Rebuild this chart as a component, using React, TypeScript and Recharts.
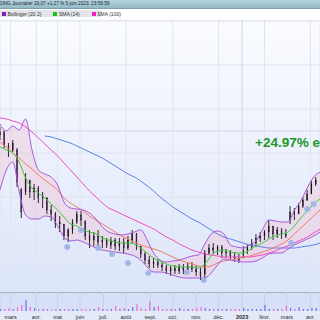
import { ComposedChart, Bar, Line, Area, Scatter, XAxis, YAxis, CartesianGrid, ReferenceLine, Cell } from "recharts";

// x axis = trading days from mid-Feb 2022
const monthDays = [10, 34, 54, 75, 97, 118, 141, 162, 184, 205, 227, 248, 269, 291];
const monthLabels = ["mars", "avr.", "mai", "juin", "juil.", "août", "sept.", "oct.", "nov.", "déc.", "2023", "févr.", "mars", "avr."];
const priceGrid = [5.75, 6.85, 7.95, 9.05, 10.15, 11.25, 12.35, 13.45, 14.55, 15.65, 16.75, 17.85, 18.95];

const candleDays = [0, 4, 8, 12, 16, 20, 24, 28, 32, 36, 40, 44, 48, 52, 56, 60, 64, 68, 72, 76, 80, 84, 88, 92, 96, 100, 104, 108, 112, 116, 120, 124, 128, 132, 136, 140, 144, 148, 152, 156, 160, 164, 168, 172, 176, 180, 184, 188, 192, 196, 200, 204, 208, 212, 216, 220, 224, 228, 232, 236, 240, 244, 248, 252, 256, 260, 264, 268, 272, 276, 280, 284, 288, 292, 296];
const opens = [13.25, 13.45, 12.7, 12.5, 12.5, 10.5, 10.4, 11.0, 10.4, 10.6, 10.1, 10.1, 9.5, 9.3, 8.8, 8.8, 8.2, 8.5, 8.9, 9.25, 8.9, 8.2, 8.0, 8.2, 7.9, 8.0, 7.75, 8.0, 7.7, 7.9, 7.6, 8.0, 8.3, 7.7, 7.3, 7.0, 6.8, 6.9, 6.75, 6.65, 6.45, 6.6, 6.45, 6.65, 6.5, 6.7, 6.55, 6.4, 6.3, 7.35, 7.6, 7.5, 7.65, 7.35, 7.4, 7.2, 7.1, 7.1, 7.5, 7.65, 7.85, 8.1, 8.2, 8.4, 8.7, 8.3, 8.5, 8.3, 9.0, 9.4, 9.3, 9.7, 10.0, 10.3, 10.8];
const highs = [13.65, 13.5, 12.85, 13.0, 12.6, 10.6, 11.35, 11.0, 10.8, 10.7, 10.4, 10.15, 9.75, 9.4, 9.2, 8.8, 8.6, 9.05, 9.45, 9.45, 9.0, 8.5, 8.4, 8.5, 8.2, 8.1, 8.15, 8.1, 8.1, 8.1, 8.2, 8.5, 8.35, 7.7, 7.4, 7.2, 7.1, 7.05, 6.9, 6.75, 6.7, 6.75, 6.8, 6.8, 6.85, 6.9, 6.75, 6.6, 7.5, 7.8, 7.85, 7.75, 7.75, 7.55, 7.5, 7.4, 7.3, 7.7, 7.8, 8.05, 8.3, 8.4, 8.5, 9.0, 8.7, 8.65, 8.6, 8.55, 9.7, 9.6, 9.85, 10.15, 10.5, 10.95, 11.15];
const lows = [13.0, 12.6, 12.15, 12.4, 10.65, 9.1, 10.25, 10.1, 10.0, 9.85, 9.6, 9.3, 8.95, 8.6, 8.4, 8.0, 7.9, 8.3, 8.8, 8.7, 8.0, 7.6, 7.7, 7.6, 7.6, 7.6, 7.55, 7.5, 7.45, 7.35, 7.5, 7.8, 7.5, 7.1, 6.8, 6.6, 6.6, 6.6, 6.45, 6.3, 6.2, 6.3, 6.3, 6.3, 6.35, 6.4, 6.2, 6.0, 6.1, 7.25, 7.3, 7.25, 7.1, 7.1, 7.05, 6.9, 6.85, 7.1, 7.3, 7.5, 7.7, 7.9, 8.0, 8.1, 8.0, 8.1, 8.05, 8.1, 8.8, 9.0, 9.3, 9.6, 9.95, 10.3, 10.7];
const closes = [13.5, 12.75, 12.5, 12.85, 10.9, 9.4, 11.1, 10.4, 10.6, 10.1, 10.2, 9.5, 9.3, 8.8, 8.9, 8.2, 8.5, 8.9, 9.3, 9.0, 8.2, 8.0, 8.2, 7.9, 8.0, 7.75, 8.0, 7.7, 7.9, 7.6, 8.0, 8.3, 7.7, 7.3, 7.0, 6.8, 6.9, 6.75, 6.65, 6.45, 6.6, 6.45, 6.65, 6.5, 6.7, 6.55, 6.4, 6.2, 7.35, 7.6, 7.5, 7.65, 7.35, 7.4, 7.2, 7.1, 7.0, 7.5, 7.65, 7.85, 8.1, 8.2, 8.4, 8.7, 8.3, 8.5, 8.3, 8.2, 9.4, 9.3, 9.7, 10.0, 10.3, 10.8, 11.0];
const volumes = [2, 2, 3, 2, 4, 6, 11, 4, 3, 2, 2, 2, 1.5, 2, 2, 2, 1.5, 2, 2, 2, 1.5, 2, 2, 4, 2, 2, 2, 5, 2, 3, 2, 4, 7, 3, 2, 10, 4, 5, 2, 2, 2, 2, 3, 2, 2, 2, 3, 4, 3, 2, 2, 2, 2, 2, 2, 2, 2, 3, 2, 2, 2, 2, 6, 2, 2, 2, 2, 5, 3, 2, 4, 2, 2, 3, 3];

const lineDays = [0, 6, 12, 18, 24, 30, 36, 42, 48, 54, 60, 66, 72, 78, 84, 90, 96, 102, 108, 114, 120, 126, 132, 138, 144, 150, 156, 162, 168, 174, 180, 186, 192, 198, 204, 210, 216, 222, 228, 234, 240, 246, 252, 258, 264, 270, 276, 282, 288, 294, 300];
const bollUpper = [13.8, 13.45, 13.7, 13.5, 14.05, 12.5, 11.5, 11.3, 11.15, 10.75, 9.9, 9.6, 9.55, 9.5, 9.35, 9.05, 8.65, 8.4, 8.3, 8.25, 8.3, 8.4, 8.5, 8.0, 7.35, 7.0, 6.9, 6.95, 7.0, 7.1, 7.2, 7.25, 7.8, 8.3, 8.45, 8.3, 7.75, 7.65, 7.6, 7.75, 7.95, 8.5, 9.0, 8.95, 8.9, 8.9, 9.5, 9.95, 10.6, 11.15, 11.4];
const bollLower = [10.5, 11.5, 11.9, 10.4, 9.25, 9.05, 9.05, 9.2, 9.15, 8.7, 8.15, 7.95, 8.0, 7.9, 7.75, 7.6, 7.5, 7.45, 7.4, 7.35, 7.3, 7.2, 7.0, 6.65, 6.4, 6.4, 6.35, 6.25, 6.15, 6.1, 6.1, 6.1, 6.1, 6.35, 6.75, 7.05, 7.0, 6.95, 6.9, 6.9, 6.95, 7.1, 7.3, 7.35, 7.35, 7.55, 7.75, 7.9, 8.05, 8.2, 8.4];
const sma14 = [12.65, 12.5, 12.35, 11.9, 11.1, 10.6, 10.35, 10.1, 9.8, 9.5, 9.15, 8.8, 8.7, 8.5, 8.4, 8.3, 8.1, 8.0, 7.9, 7.85, 7.85, 7.8, 7.6, 7.35, 7.1, 6.95, 6.8, 6.7, 6.65, 6.65, 6.65, 6.6, 6.8, 7.2, 7.45, 7.5, 7.4, 7.35, 7.35, 7.5, 7.7, 7.85, 8.05, 8.2, 8.3, 8.4, 8.7, 9.1, 9.45, 9.8, 10.05];
const sma50 = [12.9, 12.65, 12.35, 12.1, 11.8, 11.55, 11.25, 11.0, 10.75, 10.5, 10.1, 9.85, 9.65, 9.45, 9.2, 9.0, 8.8, 8.6, 8.4, 8.2, 8.05, 7.9, 7.75, 7.65, 7.55, 7.45, 7.3, 7.15, 7.0, 6.9, 6.8, 6.7, 6.65, 6.7, 6.85, 6.95, 7.0, 7.05, 7.15, 7.2, 7.3, 7.4, 7.5, 7.65, 7.8, 8.0, 8.3, 8.6, 8.9, 9.2, 9.5];
const sma100 = [14.1, 14.05, 13.95, 13.85, 13.65, 13.4, 13.1, 12.8, 12.5, 12.2, 11.85, 11.5, 11.15, 10.8, 10.45, 10.15, 9.85, 9.6, 9.45, 9.3, 9.15, 9.0, 8.85, 8.7, 8.55, 8.35, 8.15, 8.0, 7.8, 7.65, 7.5, 7.4, 7.3, 7.25, 7.2, 7.15, 7.15, 7.15, 7.15, 7.15, 7.2, 7.25, 7.35, 7.45, 7.6, 7.7, 7.85, 8.0, 8.15, 8.35, 8.55];
const sma200 = [null, null, null, null, null, null, null, 13.2, 13.15, 13.05, 12.95, 12.85, 12.7, 12.55, 12.4, 12.25, 12.1, 11.9, 11.7, 11.5, 11.3, 11.15, 10.95, 10.7, 10.45, 10.15, 9.9, 9.65, 9.45, 9.25, 9.05, 8.9, 8.7, 8.5, 8.3, 8.15, 8.05, 7.95, 7.85, 7.75, 7.7, 7.65, 7.6, 7.6, 7.6, 7.6, 7.6, 7.65, 7.7, 7.75, 7.85];

const markerDays = [63, 76, 92, 105, 120, 139, 175, 191, 273, 288, 294];
const markerValues = [7.65, 8.5, 7.6, 7.3, 6.85, 6.35, 6.4, 6.0, 7.85, 9.55, 9.8];

const candles = candleDays.map((d, i) => ({ d, open: opens[i], high: highs[i], low: lows[i], close: closes[i], vol: volumes[i] }));
const lineRows = lineDays.map((d, i) => ({ d, upper: bollUpper[i], lower: bollLower[i], s14: sma14[i], s50: sma50[i], s100: sma100[i], s200: sma200[i] }));
const markers = markerDays.map((d, i) => ({ d, v: markerValues[i] }));

const FONT = '"Liberation Sans", Arial, sans-serif';

function Candle(props: any) {
  const { x, y, width, height, payload } = props;
  const top0 = Math.min(y, y + height);
  const h = Math.abs(height);
  const range = payload.high - payload.low || 1;
  const k = h / range;
  const yOf = (v: number) => top0 + (payload.high - v) * k;
  const up = payload.close >= payload.open;
  const cx = x + width / 2;
  const bt = yOf(Math.max(payload.open, payload.close));
  const bb = yOf(Math.min(payload.open, payload.close));
  return (
    <g>
      <line x1={cx} x2={cx} y1={top0} y2={top0 + h} stroke="#161616" strokeWidth={0.9} />
      <rect x={x} y={bt} width={width} height={Math.max(bb - bt, 0.8)} fill={up ? "#181818" : "#5c1f7c"} stroke="#161616" strokeWidth={0.3} />
    </g>
  );
}

function Marker(p: any) {
  return (
    <g>
      <circle cx={p.cx} cy={p.cy} r={2.6} fill="#bcd0f2" stroke="#7d9ad8" strokeWidth={0.6} />
      <circle cx={p.cx} cy={p.cy} r={1.1} fill="none" stroke="#5a78c0" strokeWidth={0.5} />
    </g>
  );
}

function MonthTick(p: any) {
  const idx = monthDays.indexOf(p.payload.value);
  const label = monthLabels[idx];
  return (
    <text x={p.x} y={p.y} textAnchor="middle" fontSize={5.5} fill="#2a2a2a" fontFamily={FONT} fontWeight={label === "2023" ? "bold" : "normal"}>
      {label}
    </text>
  );
}

const legend = [
  { color: "#7a1fb0", label: "Bollinger (20 2)" },
  { color: "#19c419", label: "SMA (14)" },
  { color: "#f01fc8", label: "SMA (100)" },
];

export default function App() {
  return (
    <div style={{ position: "fixed", left: 0, top: 0, width: 320, height: 320, overflow: "hidden", background: "#fff", fontFamily: FONT }}>
      <div style={{ position: "absolute", left: 0, top: 0, width: 320, height: 8, background: "linear-gradient(#b4d4dd, #93b8c5)", borderBottom: "1px solid #7c9fad" }}>
        <span style={{ position: "absolute", left: -1, top: 1, fontSize: 4.7, lineHeight: "6px", color: "#17262c", whiteSpace: "nowrap" }}>
          DING Journalier 19,07 +1,27 % 5 juin 2023, 23:59:59
        </span>
      </div>
      <div style={{ position: "absolute", left: 0, top: 10, width: 102, height: 7, background: "#e3e5ea", display: "flex", alignItems: "center" }}>
        {legend.map((l) => (
          <div key={l.label} style={{ display: "flex", alignItems: "center", marginLeft: 2, marginRight: 10 }}>
            <div style={{ width: 4, height: 4, background: l.color, marginRight: 1.5 }} />
            <span style={{ fontSize: 5, color: "#333", whiteSpace: "nowrap" }}>{l.label}</span>
          </div>
        ))}
      </div>
      <div style={{ position: "absolute", left: 0, top: 18, width: 320, height: 274, background: "linear-gradient(#fbfcff, #dce5f9)" }} />
      <div style={{ position: "absolute", left: 0, top: 292, width: 320, height: 19, background: "#d7e0f6", borderTop: "1px solid #a7b0c4", boxSizing: "border-box" }} />
      <div style={{ position: "absolute", left: 0, top: 311, width: 320, height: 9, background: "#e4eaf7" }} />

      <div style={{ position: "absolute", left: 0, top: 20 }}>
        <ComposedChart width={320} height={272} data={candles} margin={{ top: 0, right: 0, bottom: 0, left: 0 }}>
          <XAxis dataKey="d" type="number" domain={[0, 300]} ticks={monthDays} hide allowDataOverflow />
          <YAxis type="number" domain={[5.4, 19]} ticks={priceGrid} hide allowDataOverflow />
          <CartesianGrid stroke="#e0e4ef" />
          <ReferenceLine x={227} stroke="#cfd4e2" />
          <ReferenceLine y={13.45} stroke="#d6dae6" />
          <Area data={lineRows} dataKey={(r: any) => [r.lower, r.upper]} type="monotone" stroke="none" fill="#f0c6da" fillOpacity={0.45} isAnimationActive={false} />
          <Line data={lineRows} dataKey="s200" type="monotone" stroke="#5a80e6" strokeWidth={1} dot={false} isAnimationActive={false} />
          <Line data={lineRows} dataKey="s100" type="monotone" stroke="#f04cc4" strokeWidth={1} dot={false} isAnimationActive={false} />
          <Line data={lineRows} dataKey="s50" type="monotone" stroke="#f27a68" strokeWidth={1} dot={false} isAnimationActive={false} />
          <Line data={lineRows} dataKey="upper" type="monotone" stroke="#a75ad8" strokeWidth={1} dot={false} isAnimationActive={false} />
          <Line data={lineRows} dataKey="lower" type="monotone" stroke="#a75ad8" strokeWidth={1} dot={false} isAnimationActive={false} />
          <Line data={lineRows} dataKey="s14" type="monotone" stroke="#3ccc3c" strokeWidth={1} dot={false} isAnimationActive={false} />
          <Bar dataKey={(r: any) => [r.low, r.high]} barSize={3} shape={<Candle />} isAnimationActive={false} />
          <Scatter data={markers} dataKey="v" shape={<Marker />} isAnimationActive={false} />
        </ComposedChart>
      </div>

      <div style={{ position: "absolute", left: 0, top: 292 }}>
        <ComposedChart width={320} height={28} data={candles} margin={{ top: 0, right: 0, bottom: 0, left: 0 }}>
          <XAxis dataKey="d" type="number" domain={[0, 300]} ticks={monthDays} height={9} axisLine={false} tickLine={false} tick={<MonthTick />} interval={0} allowDataOverflow />
          <YAxis type="number" domain={[0, 19]} hide />
          <CartesianGrid stroke="#c9d2e8" horizontal={false} />
          <Bar dataKey="vol" barSize={1.2} isAnimationActive={false}>
            {candles.map((c, i) => (
              <Cell key={i} fill={c.close >= c.open ? "#6f6ef0" : "#ee6cc8"} />
            ))}
          </Bar>
        </ComposedChart>
      </div>

      <svg style={{ position: "absolute", left: 0, top: 0 }} width={320} height={320}>
        <text x={255} y={146.5} fontSize={13.5} fontWeight="bold" fill="#21962a" fontFamily={FONT}>
          +24.97% en 2023
        </text>
      </svg>
    </div>
  );
}
